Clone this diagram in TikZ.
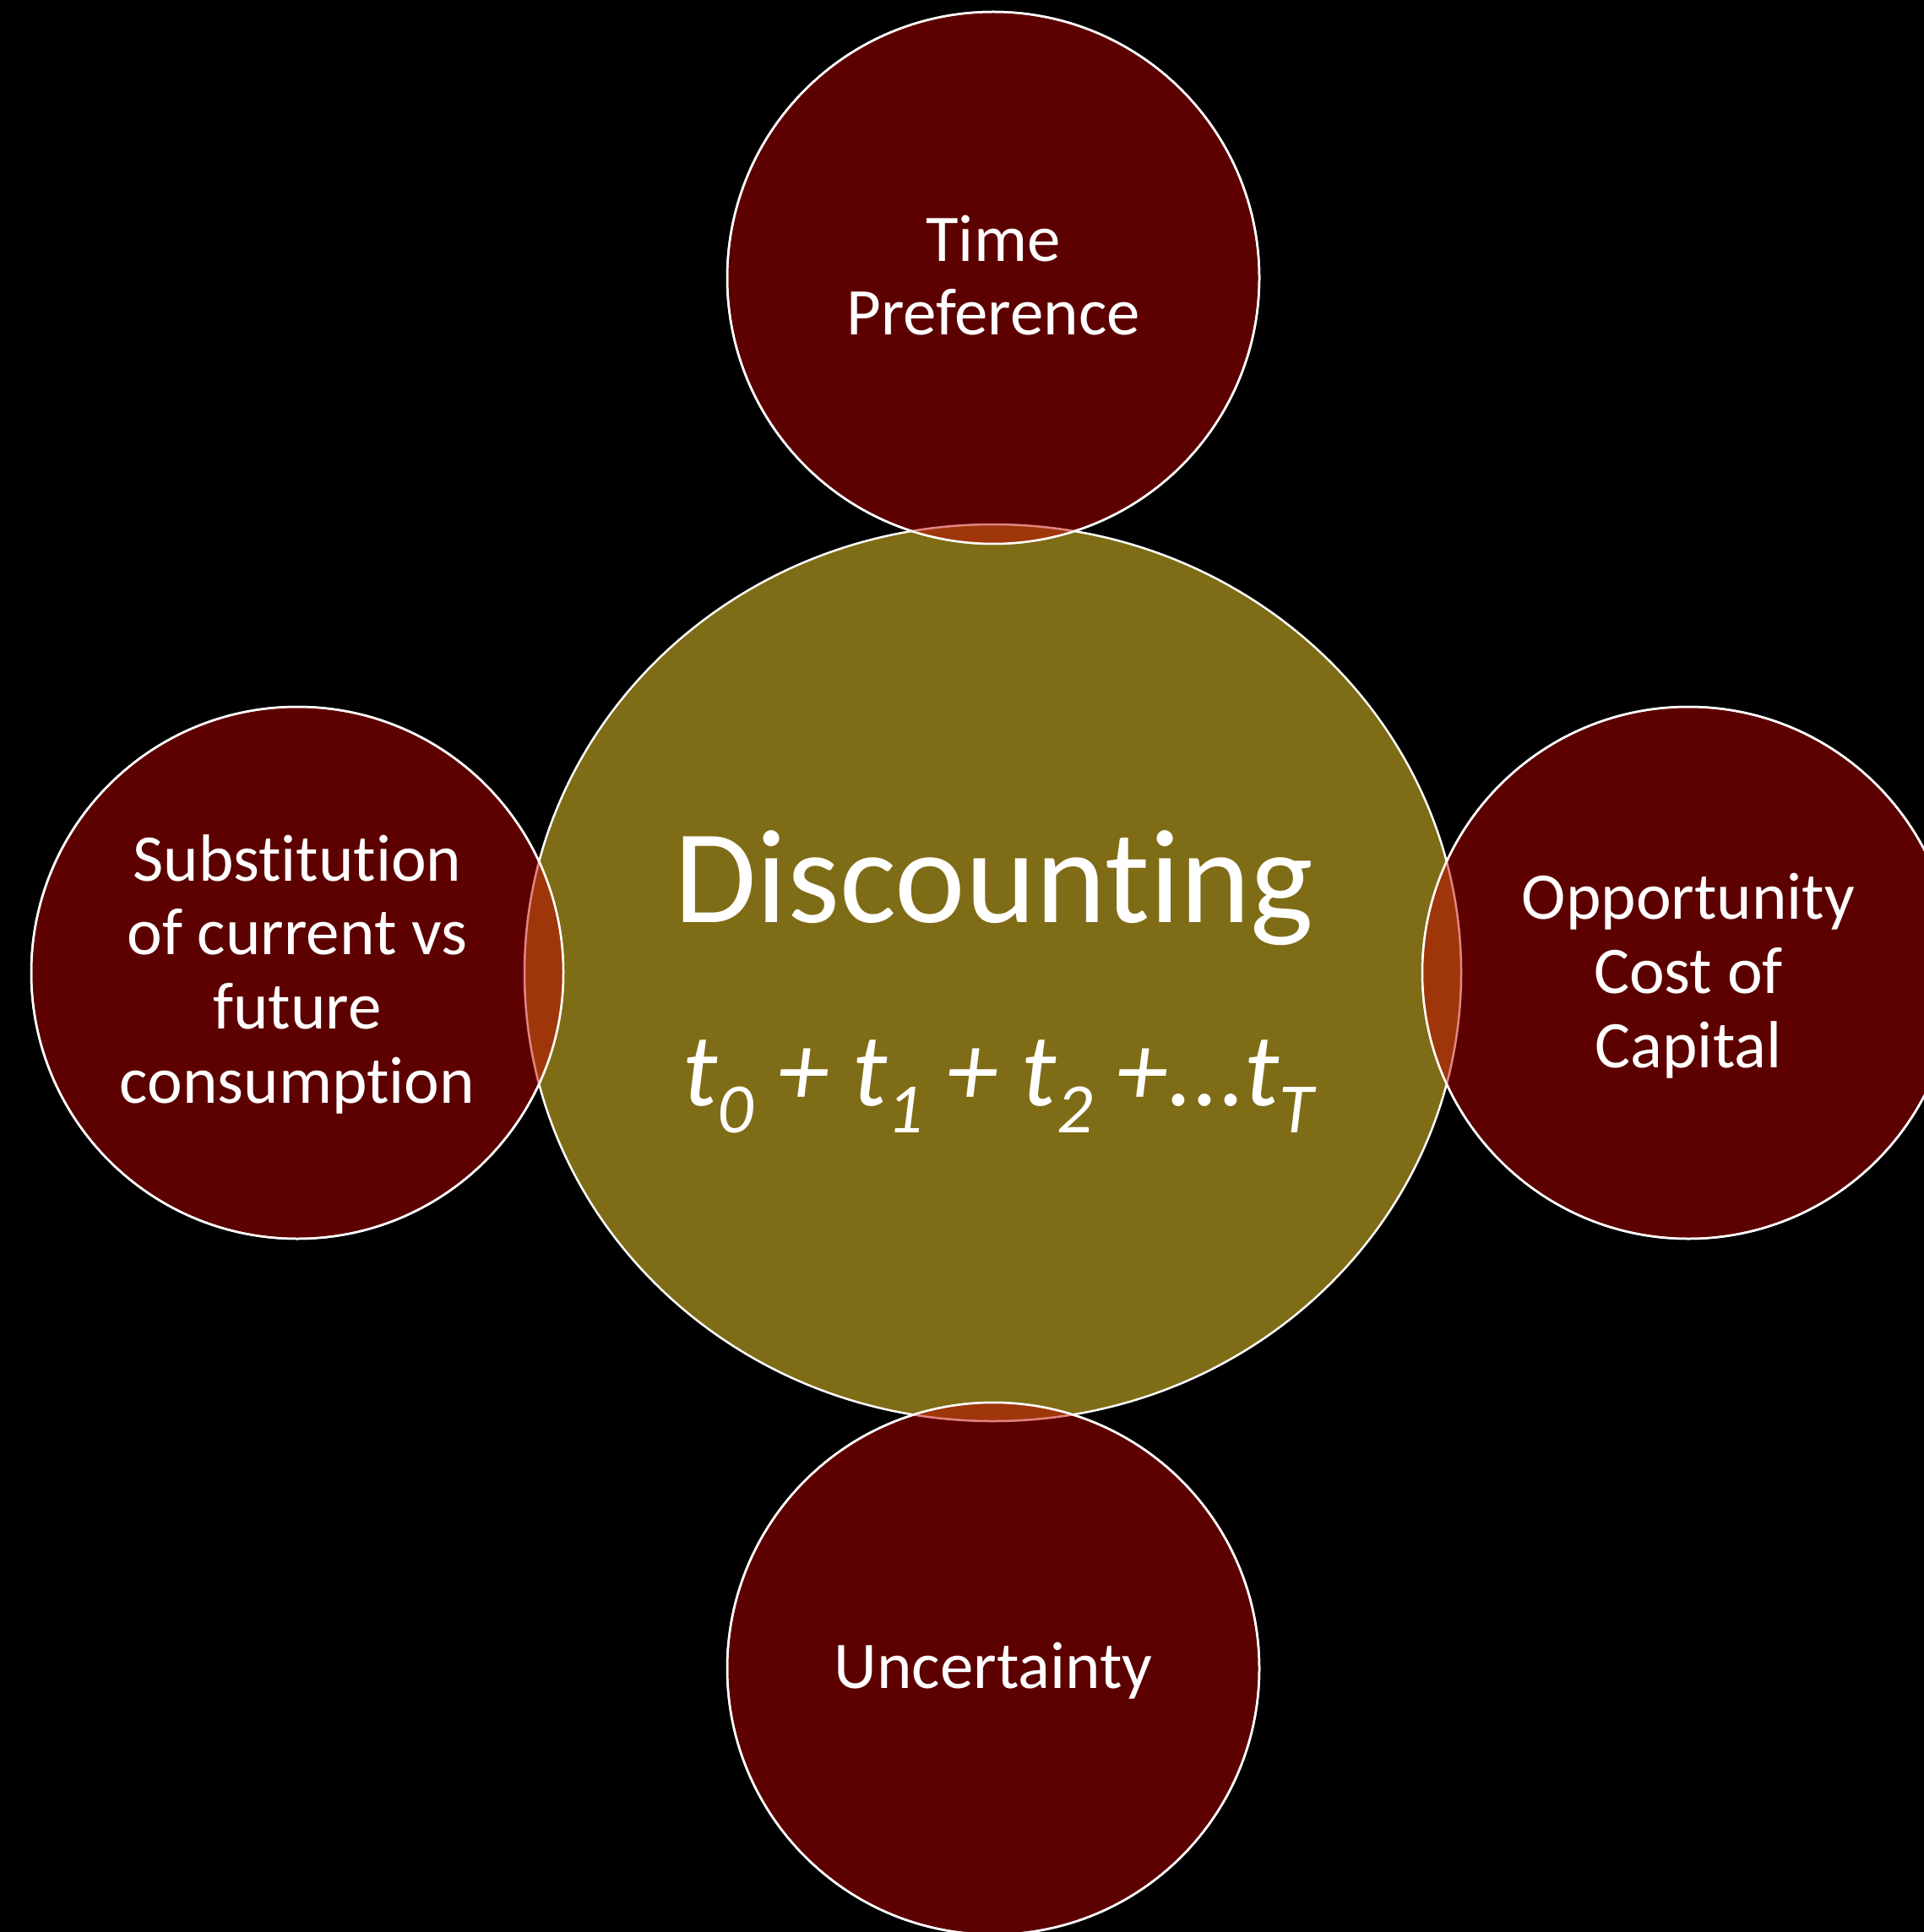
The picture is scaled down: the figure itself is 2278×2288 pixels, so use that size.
\documentclass[tikz,border=0pt]{standalone}
\usepackage{fontspec}
\setmainfont{Carlito}[Ligatures=NoCommon]
\usetikzlibrary{shapes.geometric}
\definecolor{darkred}{RGB}{93,0,0}
\definecolor{olivefill}{RGB}{127,108,22}
\definecolor{overlapfill}{RGB}{159,54,9}
\definecolor{pinkline}{RGB}{226,132,132}
\newcommand\sbx[1]{\raisebox{-9.6pt}{\fontsize{25.2}{30}\selectfont #1}}
\begin{document}
\begin{tikzpicture}[x=0.3pt,y=-0.3pt,
 smallc/.style={circle, draw=white, line width=0.75pt, fill=darkred, minimum size=189pt, inner sep=0pt},
 bigc/.style={ellipse, draw=white, line width=0.75pt, fill=olivefill, minimum width=332.7pt, minimum height=318.6pt, inner sep=0pt},
 lbl/.style={text=white, font=\fontsize{23.7}{26.3}\selectfont, align=center, anchor=base, inner sep=0pt},
 rim/.style={draw=white, line width=0.75pt}]
\fill[black] (0,0) rectangle (2278,2288);
\useasboundingbox (0,0) rectangle (2278,2288);
% central ellipse
\node[bigc] (disc) at (1175.5,1152) {};
% outer circles
\node[smallc] (time) at (1176,329) {};
\node[smallc] (subst) at (352,1152) {};
\node[smallc] (opp) at (1999,1152) {};
\node[smallc] (unc) at (1176,1976) {};
% overlaps
\begin{scope}
\clip (disc.center) ellipse [x radius=166.35pt, y radius=159.3pt];
\fill[overlapfill] (time.center) circle[radius=94.5pt] (subst.center) circle[radius=94.5pt]
  (opp.center) circle[radius=94.5pt] (unc.center) circle[radius=94.5pt];
\end{scope}
\begin{scope}
\clip (time.center) circle[radius=94.5pt] (subst.center) circle[radius=94.5pt]
  (opp.center) circle[radius=94.5pt] (unc.center) circle[radius=94.5pt];
\draw[pinkline, line width=0.75pt] (disc.center) ellipse [x radius=166.35pt, y radius=159.3pt];
\end{scope}
\draw[rim] (time.center) circle[radius=94.5pt] (subst.center) circle[radius=94.5pt]
  (opp.center) circle[radius=94.5pt] (unc.center) circle[radius=94.5pt];
% labels
\node[lbl] (tpl) at (1176,397) {Time\\Preference};
\node[lbl] (sbl) at (352,1306) {Substitution\\of current vs\\future\\consumption};
\node[lbl] (ocl) at (1999,1264) {Opportunity\\Cost of\\Capital};
\node[lbl] (ucl) at (1176,1999) {Uncertainty};
\node[text=white, font=\fontsize{47.5}{56}\selectfont, anchor=base, inner sep=0pt] (dtitle) at (1177,1092) {Discounting};
\node[text=white, font=\itshape\fontsize{36.9}{44}\selectfont, anchor=base, inner sep=0pt] (formula) at (1182,1309) {t\sbx{0} + t\sbx{1} + t\sbx{2} +...t\sbx{T}};
\end{tikzpicture}
\end{document}
